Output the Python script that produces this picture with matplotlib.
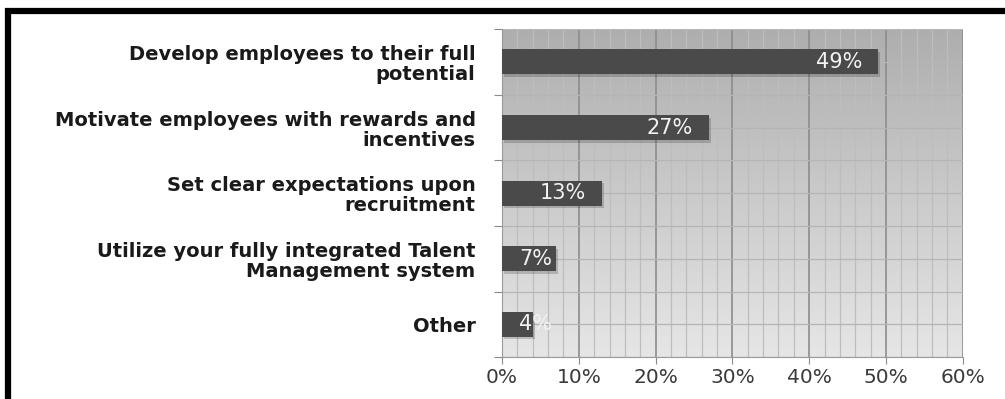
import matplotlib
matplotlib.use("Agg")
import matplotlib.pyplot as plt
import numpy as np
from matplotlib.patches import Rectangle

# Survey answers, top to bottom
categories = [
    "Develop employees to their full\npotential",
    "Motivate employees with rewards and\nincentives",
    "Set clear expectations upon\nrecruitment",
    "Utilize your fully integrated Talent\nManagement system",
    "Other",
]
shares = [49, 27, 13, 7, 4]
x_ticks = [0, 10, 20, 30, 40, 50, 60]
x_tick_labels = ["0%", "10%", "20%", "30%", "40%", "50%", "60%"]


def plot_shares(categories, shares):
    fig = plt.figure(figsize=(10.05, 3.99), dpi=100)
    fig.patch.set_facecolor("white")
    ax = fig.add_axes([0.4995, 0.105, 0.4585, 0.822])

    n = len(categories)
    y = np.arange(n)[::-1]

    ax.set_xlim(0, 60)
    ax.set_ylim(-0.5, n - 0.5)

    # grey gradient backdrop, darker at the top
    grad = np.linspace(0.90, 0.68, 256).reshape(-1, 1)
    ax.imshow(grad, cmap="gray", vmin=0, vmax=1, aspect="auto",
              extent=[0, 60, -0.5, n - 0.5], origin="lower", zorder=0)

    # drop shadow then bar
    ax.barh(y - 0.04, shares, left=0.25, height=0.38, color="#000000",
            alpha=0.18, zorder=2, linewidth=0)
    ax.barh(y, shares, height=0.38, color="#4a4a4a", zorder=3, linewidth=0)

    for yi, v in zip(y, shares):
        if v >= 10:
            ax.text(v - 2.1, yi, f"{v}%", ha="right", va="center",
                    color="#f2f2f2", fontsize=15, zorder=4)
        else:
            ax.text(2.2, yi, f"{v}%", ha="left", va="center",
                    color="#f2f2f2", fontsize=15, zorder=4)

    # x axis
    ax.set_xticks(x_ticks)
    ax.set_xticklabels(x_tick_labels, fontsize=14.5, color="#3a3a3a")
    ax.set_xticks(np.arange(0, 61, 2), minor=True)
    ax.tick_params(axis="x", which="major", length=5, color="#8a8a8a",
                   pad=3)
    ax.tick_params(axis="x", which="minor", length=0)

    # y axis: ticks on category boundaries, labels at centres
    ax.set_yticks(np.arange(-0.5, n, 1.0))
    ax.set_yticklabels([])
    ax.set_yticks(y, minor=True)
    ax.set_yticklabels(categories, minor=True, fontsize=14,
                       fontweight="bold", color="#1a1a1a",
                       ha="right", linespacing=1.08)
    ax.tick_params(axis="y", which="major", length=6, color="#8a8a8a")
    ax.tick_params(axis="y", which="minor", length=0, pad=19)

    ax.grid(which="major", axis="x", color="#8c8c8c", linewidth=1.2,
            zorder=1)
    ax.grid(which="minor", axis="x", color="#bdbdbd", linewidth=0.9,
            zorder=1)
    ax.grid(which="both", axis="y", color="#b5b5b5", linewidth=0.9,
            zorder=1)
    ax.set_axisbelow(True)

    for side in ["top", "right"]:
        ax.spines[side].set_visible(False)
    ax.spines["left"].set_color("#9a9a9a")
    ax.spines["bottom"].set_color("#9a9a9a")

    # heavy black frame around the panel (runs off the page)
    frame = Rectangle((8 / 1005, -0.2), 1.2, (1 - 11 / 399) + 0.2,
                      transform=fig.transFigure, fill=False,
                      edgecolor="black", linewidth=4.5, clip_on=False)
    fig.patches.append(frame)

    fig.savefig("out.png", dpi=100, facecolor="white")


plot_shares(categories, shares)
